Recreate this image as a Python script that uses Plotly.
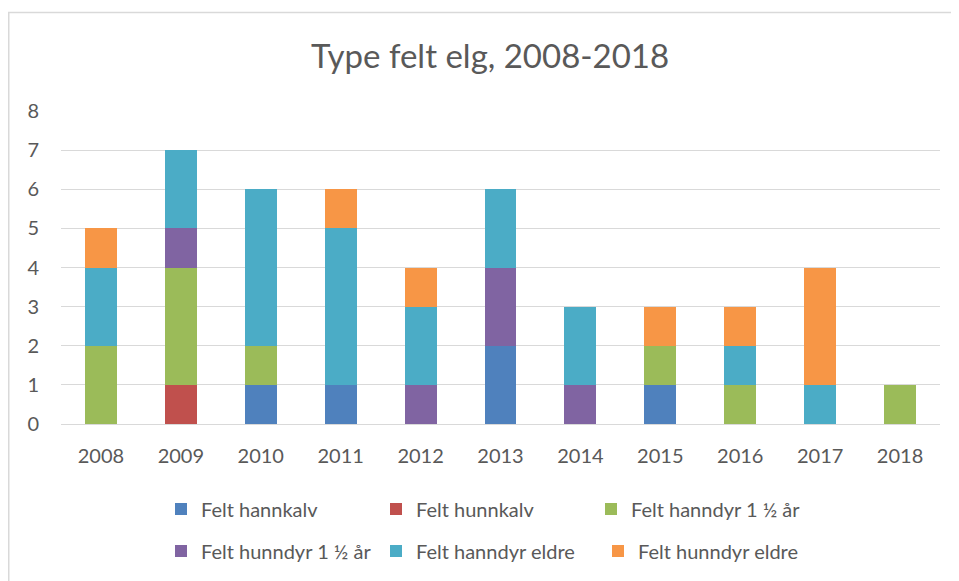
import plotly.graph_objects as go

years = ["2008", "2009", "2010", "2011", "2012", "2013", "2014", "2015", "2016", "2017", "2018"]
series_names = ["Felt hannkalv", "Felt hunnkalv", "Felt hanndyr 1 ½ år",
                "Felt hunndyr 1 ½ år", "Felt hanndyr eldre", "Felt hunndyr eldre"]
hannkalv        = [0, 0, 1, 1, 0, 2, 0, 1, 0, 0, 0]
hunnkalv        = [0, 1, 0, 0, 0, 0, 0, 0, 0, 0, 0]
hanndyr_15      = [2, 3, 1, 0, 0, 0, 0, 1, 1, 0, 1]
hunndyr_15      = [0, 1, 0, 0, 1, 2, 1, 0, 0, 0, 0]
hanndyr_eldre   = [2, 2, 4, 4, 2, 2, 2, 0, 1, 1, 0]
hunndyr_eldre   = [1, 0, 0, 1, 1, 0, 0, 1, 1, 3, 0]
colors = ["#4F81BD", "#C0504D", "#9BBB59", "#8064A2", "#4BACC6", "#F79646"]
y_ticks = [0, 1, 2, 3, 4, 5, 6, 7, 8]

values = [hannkalv, hunnkalv, hanndyr_15, hunndyr_15, hanndyr_eldre, hunndyr_eldre]

FONT = "Lato, 'Open Sans', sans-serif"
TXT = "#595959"

W, H = 959, 581
L, R, T, B = 53, 27, 103, 165
pw, ph = W - L - R, H - T - B

def px_x(x):
    return (x - L) / pw

def px_y(y):
    return (H - B - y) / ph

# legend entry anchors (figure pixels): marker-left minus plotly's symbol offset
legend_pos = [(167, 501), (382, 501), (597, 501), (167, 543), (382, 543), (604, 543)]

fig = go.Figure()
legend_layouts = {}
for i, (name, vals, col) in enumerate(zip(series_names, values, colors)):
    lname = "legend" if i == 0 else f"legend{i + 1}"
    fig.add_trace(go.Bar(
        x=years, y=vals, name=name,
        marker=dict(color=col, line=dict(width=0)),
        legend=lname, showlegend=True,
        hoverinfo="x+y+name",
    ))
    lx, ly = legend_pos[i]
    legend_layouts[lname] = dict(orientation="h", x=px_x(lx - 14), xanchor="left",
                                 y=px_y(ly), yanchor="middle",
                                 font=dict(size=20, color=TXT), itemclick=False,
                                 bgcolor="rgba(0,0,0,0)", visible=True)

fig.update_layout(
    width=W, height=H,
    margin=dict(l=L, r=R, t=T, b=B, pad=0),
    showlegend=True,
    barmode="stack",
    bargap=0.6,
    paper_bgcolor="white",
    plot_bgcolor="white",
    font=dict(family=FONT, color=TXT, size=20),
    title=dict(text="Type felt elg, 2008-2018", x=px_x(482), xref="paper",
               y=1 - 48 / H, yanchor="middle", xanchor="center",
               font=dict(family=FONT, size=33, color=TXT)),
    xaxis=dict(showgrid=False, showline=False, ticks="", tickfont=dict(size=20, color=TXT),
               ticklabelstandoff=18),
    yaxis=dict(range=[0, 8], tickvals=y_ticks, showgrid=True, gridcolor="#D9D9D9", gridwidth=1,
               zeroline=True, zerolinecolor="#D9D9D9", zerolinewidth=1,
               tickfont=dict(size=20, color=TXT), ticks="", ticklabelstandoff=21, fixedrange=True),
    shapes=[dict(type="rect", xref="paper", yref="paper",
                 x0=px_x(0.75), x1=px_x(1100), y0=px_y(4.5), y1=px_y(700),
                 line=dict(color="#D9D9D9", width=1.5), fillcolor="rgba(0,0,0,0)", layer="below")],
    **legend_layouts,
)

fig.write_html("out.html")
